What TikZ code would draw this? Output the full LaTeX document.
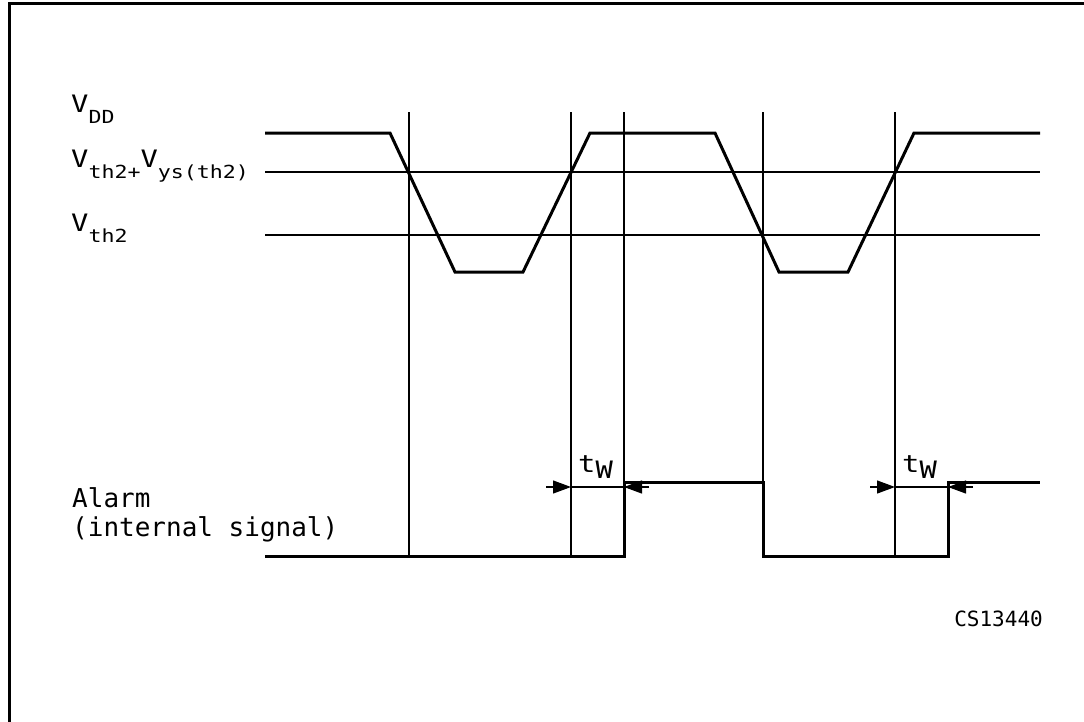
\documentclass[tikz,border=0pt]{standalone}
\usepackage{fontspec}
\newfontfamily\cad{DejaVu Sans Mono}
\newfontfamily\cadw[FakeStretch=1.2]{DejaVu Sans Mono}
\usetikzlibrary{arrows.meta}
\newcommand{\vmain}{\cadw\fontsize{24}{26}\selectfont}
\newcommand{\vsubsz}{\cadw\fontsize{18}{20}\selectfont}
\newcommand{\vsub}[1]{\raisebox{-11pt}{\vsubsz #1}}
\begin{document}
\begin{tikzpicture}[x=1pt,y=-1pt,
  sig/.style={line width=3pt,line join=miter},
  thin/.style={line width=1.2pt},
  frame/.style={line width=3pt},
  lbl/.style={inner sep=0pt,anchor=base west},
  dimtip/.style={-{Triangle[length=18pt,width=13pt]},line width=1.2pt},
]
\useasboundingbox (0,0) rectangle (1084,721);
% frame
\draw[frame] (9,722) -- (9,3) -- (1086,3);

% coordinates of the supply waveform
\coordinate (s0) at (265,133);
\coordinate (s1) at (390,133);
\coordinate (s2) at (455,272);
\coordinate (s3) at (523,272);
\coordinate (s4) at (590,133);
\coordinate (s5) at (715,133);
\coordinate (s6) at (779,272);
\coordinate (s7) at (848,272);
\coordinate (s8) at (914,133);
\coordinate (s9) at (1040,133);

% threshold lines
\coordinate (h1a) at (265,172);
\coordinate (h1b) at (1040,172);
\coordinate (h2a) at (265,235);
\coordinate (h2b) at (1040,235);
\draw[thin] (h1a) -- (h1b);
\draw[thin] (h2a) -- (h2b);

% vertical reference lines
\coordinate (v1t) at (409,112); \coordinate (v1b) at (409,556);
\coordinate (v2t) at (571,112); \coordinate (v2b) at (571,556);
\coordinate (v3t) at (624,112); \coordinate (v3b) at (624,482);
\coordinate (v4t) at (763,112); \coordinate (v4b) at (763,556);
\coordinate (v5t) at (895,112); \coordinate (v5b) at (895,556);
\foreach \v in {1,...,5} \draw[thin] (v\v t) -- (v\v b);

% supply waveform
\draw[sig] (s0) -- (s1) -- (s2) -- (s3) -- (s4) -- (s5) -- (s6) -- (s7) -- (s8) -- (s9);

% alarm waveform
\coordinate (a0) at (265,556);
\coordinate (a1) at (624,556);
\coordinate (a2) at (624,482);
\coordinate (a3) at (763,482);
\coordinate (a4) at (763,556);
\coordinate (a5) at (948,556);
\coordinate (a6) at (948,482);
\coordinate (a7) at (1040,482);
\draw[sig] (a0) -- (a1) -- (a2) -- (a3) -- (a4) -- (a5) -- (a6) -- (a7);

% tw dimensions
\coordinate (d1l) at (546,487); \coordinate (d1a) at (571,487);
\coordinate (d1b) at (624,487); \coordinate (d1r) at (649,487);
\draw[dimtip] (d1l) -- (d1a);
\draw[thin] (d1a) -- (d1b);
\draw[dimtip] (d1r) -- (d1b);
\coordinate (d2l) at (870,487); \coordinate (d2a) at (895,487);
\coordinate (d2b) at (948,487); \coordinate (d2r) at (973,487);
\draw[dimtip] (d2l) -- (d2a);
\draw[thin] (d2a) -- (d2b);
\draw[dimtip] (d2r) -- (d2b);

\node[lbl] (tw1) at (578,472) {\vmain t\raisebox{-6pt}{\vmain W}};
\node[lbl] (tw2) at (902,472) {\vmain t\raisebox{-6pt}{\vmain W}};

% labels
\node[lbl] (lvdd) at (71,112) {\vmain V\vsub{DD}};
\node[lbl] (lvhys) at (71,167) {\vmain V\vsub{th2+}V\vsub{ys(th2)}};
\node[lbl] (lvth) at (71,231) {\vmain V\vsub{th2}};
\node[lbl] (lalarm) at (72,507) {\cad\fontsize{26}{30}\selectfont Alarm};
\node[lbl] (lint) at (72,536) {\cad\fontsize{26}{30}\selectfont (internal signal)};
\node[inner sep=0pt,anchor=base east] (code) at (1043,626) {\cad\fontsize{21}{24}\selectfont CS13440};
\end{tikzpicture}
\end{document}
